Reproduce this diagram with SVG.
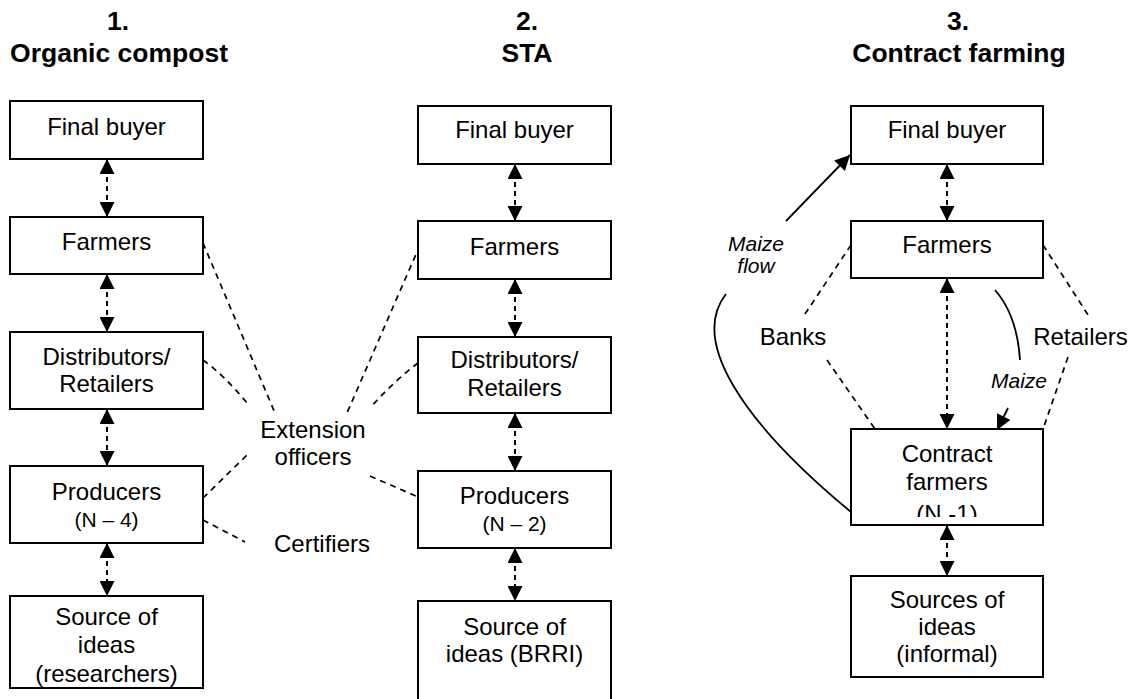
<svg xmlns="http://www.w3.org/2000/svg" width="1135" height="699" viewBox="0 0 1135 699">
<style>
.box{fill:#fff;stroke:#000;stroke-width:2}
.t{font-family:"Liberation Sans",Arial,sans-serif;font-size:24px;text-anchor:middle;fill:#000}
.s{font-size:21px}
.title{font-family:"Liberation Sans",Arial,sans-serif;font-size:26.5px;font-weight:bold;text-anchor:middle;fill:#000}
.it{font-family:"Liberation Sans",Arial,sans-serif;font-size:21px;font-style:italic;text-anchor:middle;fill:#000}
.bi{fill:none;stroke:#000;stroke-width:2;stroke-dasharray:5 4;marker-start:url(#ah);marker-end:url(#ah)}
.dl{fill:none;stroke:#000;stroke-width:1.7;stroke-dasharray:6 5}
.sl{fill:none;stroke:#000;stroke-width:1.8}
</style>
<defs>
<marker id="ah" viewBox="0 0 15 15" refX="15" refY="7.5" markerWidth="15" markerHeight="15" markerUnits="userSpaceOnUse" orient="auto-start-reverse">
<path d="M0,0 L15,7.5 L0,15 z" fill="#000"/>
</marker>
<clipPath id="cfclip"><rect x="851" y="429" width="192" height="88"/></clipPath>
</defs>
<rect width="1135" height="699" fill="#fff"/>

<g id="titles">
<text class="title" x="118" y="30">1.</text>
<text class="title" x="119" y="62">Organic compost</text>
<text class="title" x="527" y="30">2.</text>
<text class="title" x="527" y="62">STA</text>
<text class="title" x="958" y="30">3.</text>
<text class="title" x="959" y="62">Contract farming</text>
</g>

<g id="connectors">
<!-- column 1 -->
<line class="bi" x1="107" y1="159" x2="107" y2="217"/>
<line class="bi" x1="107" y1="274" x2="107" y2="332"/>
<line class="bi" x1="107" y1="409" x2="107" y2="466"/>
<line class="bi" x1="107" y1="543" x2="107" y2="596"/>
<!-- column 2 -->
<line class="bi" x1="515" y1="164" x2="515" y2="221"/>
<line class="bi" x1="515" y1="279" x2="515" y2="337"/>
<line class="bi" x1="515" y1="413" x2="515" y2="471"/>
<line class="bi" x1="515" y1="548" x2="515" y2="601"/>
<!-- column 3 -->
<line class="bi" x1="947" y1="164" x2="947" y2="221"/>
<line class="bi" x1="947" y1="278" x2="947" y2="429"/>
<line class="bi" x1="947" y1="525" x2="947" y2="576"/>
<!-- extension officers / certifiers -->
<path class="dl" d="M203,243 L275,413"/>
<path class="dl" d="M203,360 Q225,376 247,403"/>
<path class="dl" d="M203,498 L248,454"/>
<path class="dl" d="M203,520 L245,542"/>
<path class="dl" d="M420,245 L347,413"/>
<path class="dl" d="M418,363 Q393,382 370,408"/>
<path class="dl" d="M370,476 L418,497"/>
<!-- banks / retailers -->
<path class="dl" d="M851,245 L803,317"/>
<path class="dl" d="M827,360 L875,429"/>
<path class="dl" d="M1043,245 L1090,318"/>
<path class="dl" d="M1068,357 L1043,429"/>
<!-- maize flows -->
<path class="sl" d="M851,512 C740,420 690,340 726,294"/>
<path class="sl" d="M786,221 L850,155" marker-end="url(#ah)"/>
<path class="sl" d="M995,290 Q1017,315 1020,360"/>
<path class="sl" d="M1008,408 L997,430" marker-end="url(#ah)"/>
</g>

<g id="c1-final-buyer"><rect class="box" x="10" y="101" width="193" height="58"/><text class="t" x="106.5" y="135">Final buyer</text></g>
<g id="c1-farmers"><rect class="box" x="10" y="217" width="193" height="57"/><text class="t" x="106.5" y="250">Farmers</text></g>
<g id="c1-distributors"><rect class="box" x="10" y="332" width="193" height="77"/><text class="t" x="106.5" y="365">Distributors/</text><text class="t" x="106.5" y="392">Retailers</text></g>
<g id="c1-producers"><rect class="box" x="10" y="466" width="193" height="77"/><text class="t" x="106.5" y="500">Producers</text><text class="t s" x="106.5" y="527">(N – 4)</text></g>
<g id="c1-source"><rect class="box" x="10" y="596" width="193" height="92"/><text class="t" x="106.5" y="625">Source of</text><text class="t" x="106.5" y="653">ideas</text><text class="t" x="106.5" y="682">(researchers)</text></g>

<g id="c2-final-buyer"><rect class="box" x="418" y="106" width="193" height="58"/><text class="t" x="514.5" y="138">Final buyer</text></g>
<g id="c2-farmers"><rect class="box" x="418" y="221" width="193" height="58"/><text class="t" x="514.5" y="255">Farmers</text></g>
<g id="c2-distributors"><rect class="box" x="418" y="337" width="193" height="76"/><text class="t" x="514.5" y="368">Distributors/</text><text class="t" x="514.5" y="396">Retailers</text></g>
<g id="c2-producers"><rect class="box" x="418" y="471" width="193" height="77"/><text class="t" x="514.5" y="504">Producers</text><text class="t s" x="514.5" y="531">(N – 2)</text></g>
<g id="c2-source"><rect class="box" x="418" y="601" width="193" height="110"/><text class="t" x="514.5" y="635">Source of</text><text class="t" x="514.5" y="662">ideas (BRRI)</text></g>

<g id="c3-final-buyer"><rect class="box" x="851" y="106" width="192" height="58"/><text class="t" x="947" y="138">Final buyer</text></g>
<g id="c3-farmers"><rect class="box" x="851" y="221" width="192" height="57"/><text class="t" x="947" y="253">Farmers</text></g>
<g id="c3-contract-farmers"><rect class="box" x="851" y="429" width="192" height="96"/><text class="t" x="947" y="462">Contract</text><text class="t" x="947" y="490">farmers</text><text class="t" x="947" y="522" clip-path="url(#cfclip)">(N -1)</text></g>
<g id="c3-sources"><rect class="box" x="851" y="576" width="192" height="101"/><text class="t" x="947" y="608">Sources of</text><text class="t" x="947" y="635">ideas</text><text class="t" x="947" y="662">(informal)</text></g>

<g id="extension-officers"><text class="t" x="313" y="438">Extension</text><text class="t" x="313" y="465">officers</text></g>
<g id="certifiers"><text class="t" x="322" y="552">Certifiers</text></g>
<g id="banks"><text class="t" x="793" y="345">Banks</text></g>
<g id="retailers"><text class="t" x="1080.5" y="345">Retailers</text></g>
<g id="maize-flow-label"><text class="it" x="756" y="251">Maize</text><text class="it" x="756" y="273">flow</text></g>
<g id="maize-label"><text class="it" x="1019" y="388">Maize</text></g>
</svg>
